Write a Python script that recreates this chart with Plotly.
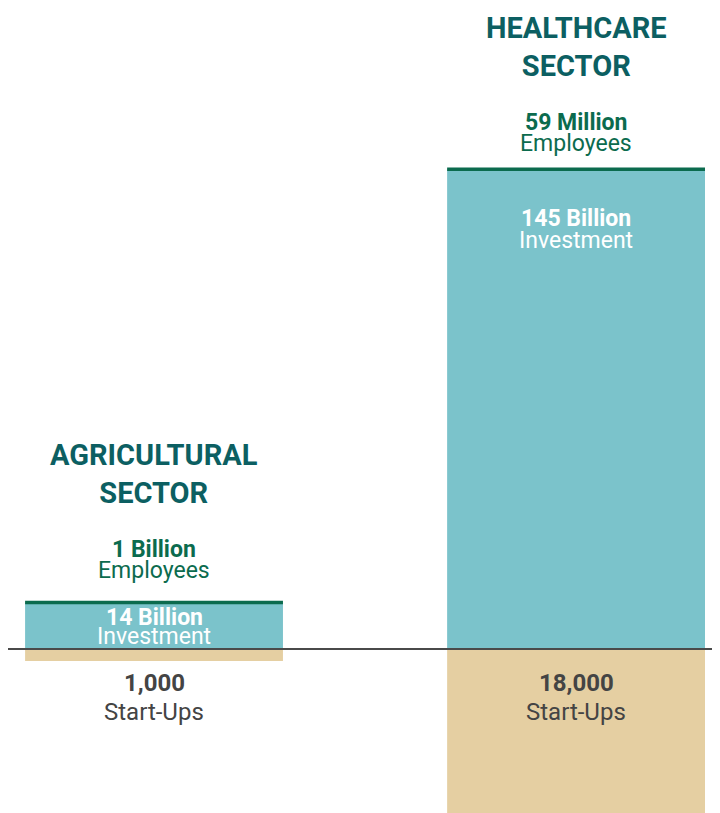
import plotly.graph_objects as go

sectors = ["AGRICULTURAL<br>SECTOR", "HEALTHCARE<br>SECTOR"]
investment_bn = [14, 145]
investment_labels = ["14 Billion", "145 Billion"]
employees_labels = ["1 Billion", "59 Million"]
startups = [1000, 18000]
startup_labels = ["1,000", "18,000"]

FONT = "Roboto"
TEAL = "#7bc3cb"
TAN = "#e5cfa2"
GREEN = "#0b6b4e"
TITLE = "#0c5f62"
GREY = "#444444"

x = [0, 1]
w = 0.611

fig = go.Figure()
fig.add_trace(go.Bar(x=x, y=investment_bn, width=w, marker_color=TEAL,
                     marker_line_width=0, yaxis="y", hoverinfo="skip"))
fig.add_trace(go.Bar(x=x, y=startups, width=w, marker_color=TAN,
                     marker_line_width=0, yaxis="y2", hoverinfo="skip"))

# employees line on top of each bar
for xi, v in zip(x, investment_bn):
    fig.add_shape(type="line", xref="x", yref="y", x0=xi - w / 2, x1=xi + w / 2,
                  y0=v, y1=v, line=dict(color=GREEN, width=3.5))

# baseline
fig.add_shape(type="line", xref="paper", yref="y", x0=0, x1=1, y0=0, y1=0,
              line=dict(color="#4a4a4a", width=2))

title_shift = [91, 84]
emp_shift = [53, 47]
inside_shift = [-15, -49]
inside_gap = [19, 22]
for i, xi in enumerate(x):
    v = investment_bn[i]
    fig.add_annotation(x=xi, y=v, yref="y", text=f"<b>{sectors[i]}</b>", showarrow=False,
                       yanchor="bottom", yshift=title_shift[i], font=dict(family=FONT, size=29, color=TITLE))
    fig.add_annotation(x=xi, y=v, yref="y", text=f"<b>{employees_labels[i]}</b>", showarrow=False,
                       yanchor="middle", yshift=emp_shift[i], font=dict(family=FONT, size=23, color=GREEN))
    fig.add_annotation(x=xi, y=v, yref="y", text="Employees", showarrow=False,
                       yanchor="middle", yshift=emp_shift[i] - 21, font=dict(family=FONT, size=23, color=GREEN))
    fig.add_annotation(x=xi, y=v, yref="y", text=f"<b>{investment_labels[i]}</b>", showarrow=False,
                       yanchor="middle", yshift=inside_shift[i], font=dict(family=FONT, size=23, color="white"))
    fig.add_annotation(x=xi, y=v, yref="y", text="Investment", showarrow=False,
                       yanchor="middle", yshift=inside_shift[i] - inside_gap[i],
                       font=dict(family=FONT, size=23, color="white"))
    fig.add_annotation(x=xi, y=0, yref="y", text=f"<b>{startup_labels[i]}</b>", showarrow=False,
                       yanchor="middle", yshift=-34, font=dict(family=FONT, size=24, color=GREY))
    fig.add_annotation(x=xi, y=0, yref="y", text="Start-Ups", showarrow=False,
                       yanchor="middle", yshift=-63, font=dict(family=FONT, size=24, color=GREY))

fig.update_layout(
    width=720, height=813,
    margin=dict(l=0, r=0, t=0, b=0),
    paper_bgcolor="white", plot_bgcolor="white",
    showlegend=False, barmode="overlay",
    xaxis=dict(range=[-0.346, 1.360], visible=False, fixedrange=True),
    yaxis=dict(range=[-52.0, 193.7], visible=False, fixedrange=True),
    yaxis2=dict(range=[14333, -53417], overlaying="y", visible=False, fixedrange=True),
)

fig.write_html("out.html")
